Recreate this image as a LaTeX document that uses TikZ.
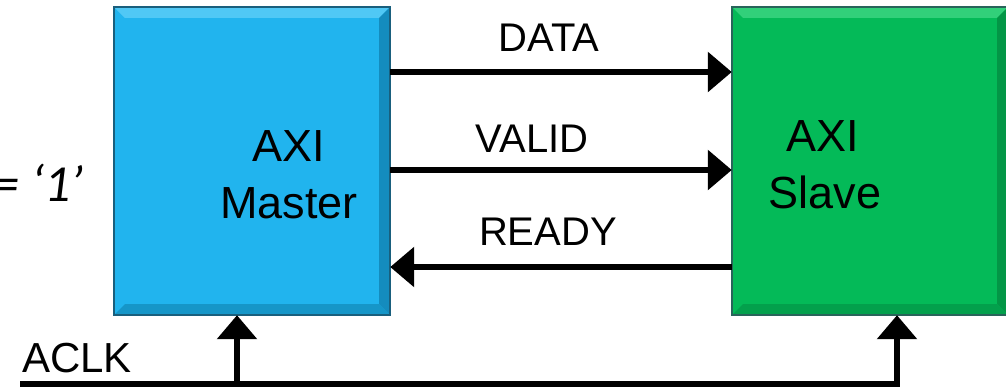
\documentclass[tikz,border=0pt]{standalone}
\usepackage{fontspec}
\setmainfont{Liberation Sans}
\newfontfamily\calfont{Carlito}
\usetikzlibrary{arrows.meta}
\definecolor{mblue}{RGB}{33,180,238}
\definecolor{mbluetop}{RGB}{80,200,245}
\definecolor{mblueright}{RGB}{20,140,190}
\definecolor{mbluebot}{RGB}{22,150,200}
\definecolor{mblueline}{RGB}{25,95,125}
\definecolor{sgreen}{RGB}{4,186,88}
\definecolor{sgreentop}{RGB}{50,208,122}
\definecolor{sgreenright}{RGB}{3,150,70}
\definecolor{sgreenbot}{RGB}{3,160,76}
\definecolor{sgreenline}{RGB}{40,100,90}
\newcommand\mybevel[5]{%
  \fill[#2] (#1.north west) -- (#1.north east) -- ([xshift=-11bp,yshift=-11bp]#1.north east) -- ([xshift=11bp,yshift=-11bp]#1.north west) -- cycle;
  \fill[#3] (#1.north east) -- (#1.south east) -- ([xshift=-11bp,yshift=11bp]#1.south east) -- ([xshift=-11bp,yshift=-11bp]#1.north east) -- cycle;
  \fill[#4] (#1.south west) -- (#1.south east) -- ([xshift=-11bp,yshift=11bp]#1.south east) -- ([xshift=11bp,yshift=11bp]#1.south west) -- cycle;
  \draw[#5, line width=1.5bp] (#1.north west) rectangle (#1.south east);
}
\tikzset{
  blockbox/.style={rectangle, minimum width=#1, minimum height=308bp, inner sep=0pt, draw=none},
  boxtext/.style={align=center, font=\fontsize{45bp}{57bp}\selectfont, inner sep=0pt},
  siglabel/.style={font=\fontsize{40bp}{48bp}\selectfont, inner sep=0pt, anchor=base},
  sig/.style={line width=6bp, -{Triangle[width=39bp,length=24bp]}},
  bus/.style={line width=6bp},
}
\begin{document}
\begin{tikzpicture}[x=1bp,y=-1bp]
\useasboundingbox (0,0) rectangle (1006,389);
% blocks
\node[blockbox=276bp, fill=mblue] (master) at (252,161) {};
\mybevel{master}{mbluetop}{mblueright}{mbluebot}{mblueline}
\node[blockbox=276bp, fill=sgreen] (slave) at (870,161) {};
\mybevel{slave}{sgreentop}{sgreenright}{sgreenbot}{sgreenline}
\node[boxtext] (mtext) at (289,175) {AXI\\Master};
\node[boxtext] (stext) at (825,165) {\hspace*{-5bp}AXI\\Slave};
% signal labels
\node[siglabel] (ldata) at (549,51) {DATA};
\node[siglabel] (lvalid) at (532,152) {VALID};
\node[siglabel] (lready) at (548,245) {READY};
% signals
\draw[sig] (master.east |- 0,72) -- (slave.west |- 0,72);
\draw[sig] (master.east |- 0,170) -- (slave.west |- 0,170);
\draw[sig] (slave.west |- 0,267) -- (master.east |- 0,267);
% clock
\node[font=\fontsize{42bp}{50bp}\selectfont, inner sep=0pt, anchor=base west] (aclk) at (22,372) {ACLK};
\coordinate (cl) at (20,384);
\coordinate (cm) at (237,384);
\coordinate (cs) at (897,384);
\draw[bus] (cl) -- ([xshift=3bp]cs);
\draw[sig] (cm) -- (master.south -| cm);
\draw[sig] (cs) -- (slave.south -| cs);
% left text
\node[font=\calfont\itshape\fontsize{52bp}{60bp}\selectfont, inner sep=0pt, anchor=base east] (one) at (84,201) {= ‘1’};
\end{tikzpicture}
\end{document}
